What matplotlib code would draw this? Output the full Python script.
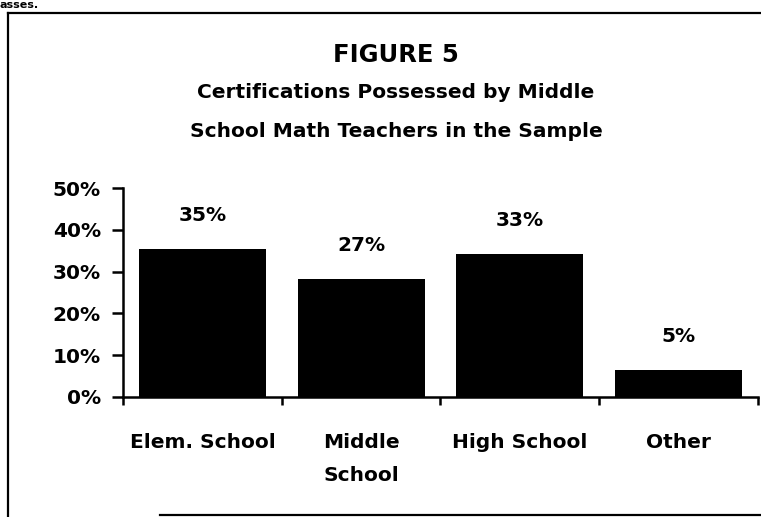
import matplotlib
matplotlib.use("Agg")
import matplotlib.pyplot as plt
from matplotlib.lines import Line2D

# data
categories = ["Elem. School", "Middle\nSchool", "High School", "Other"]
values = [35.5, 28.2, 34.2, 6.4]
value_labels = ["35%", "27%", "33%", "5%"]
yticks = [0, 10, 20, 30, 40, 50]
ytick_labels = ["0%", "10%", "20%", "30%", "40%", "50%"]

plt.rcParams['font.family'] = ['DejaVu Sans']
plt.rcParams['font.weight'] = 'bold'

W, H = 761, 517
fig = plt.figure(figsize=(W / 100, H / 100), dpi=100)
fig.patch.set_facecolor("white")

ax = fig.add_axes([123 / W, 1 - 397 / H, (758 - 123) / W, (397 - 188) / H])

x = list(range(len(categories)))
bars = ax.bar(x, values, width=0.8, color="black")
for xi, v, lab in zip(x, values, value_labels):
    ax.annotate(lab, (xi, v), xytext=(0, 24), textcoords="offset points",
                ha="center", va="center", fontsize=14.5, fontweight="bold")

ax.set_xlim(-0.5, len(categories) - 0.5)
ax.set_ylim(0, 50)
ax.set_yticks(yticks)
ax.set_yticklabels(ytick_labels, fontsize=14.5, fontweight="bold")
ax.tick_params(axis="y", direction="out", length=8, width=1.8, pad=8)

ax.set_xticks(x)
ax.set_xticklabels(categories, fontsize=14.5, fontweight="bold", linespacing=1.9, va="top")
ax.tick_params(axis="x", which="major", length=0, pad=26)
ax.set_xticks([i - 0.5 for i in range(len(categories) + 1)], minor=True)
ax.tick_params(axis="x", which="minor", direction="out", length=6, width=1.8)

for s in ["top", "right"]:
    ax.spines[s].set_visible(False)
for s in ["left", "bottom"]:
    ax.spines[s].set_linewidth(1.8)

# titles
fig.text(396 / W, 1 - 55 / H, "FIGURE 5", ha="center", va="center",
         fontsize=17.5, fontweight="bold")
fig.text(396 / W, 1 - 93 / H, "Certifications Possessed by Middle", ha="center",
         va="center", fontsize=14.5, fontweight="bold")
fig.text(396 / W, 1 - 132 / H, "School Math Teachers in the Sample", ha="center",
         va="center", fontsize=14.5, fontweight="bold")

# text from the page above, mostly cut off in the scan
fig.text(0.0, 1.0, "asses.", ha="left", va="top", fontsize=8, fontweight="bold")

# border box (right edge cut off by the scan)
def px(xp, yp):
    return xp / W, 1 - yp / H

for (x0, y0), (x1, y1) in [((8, 13), (761, 13)), ((8, 13), (8, 517)), ((160, 515), (761, 515))]:
    a, b = px(x0, y0)
    c, d = px(x1, y1)
    fig.add_artist(Line2D([a, c], [b, d], color="black", lw=1.6, transform=fig.transFigure))

fig.savefig("out.png", dpi=100, facecolor="white")
